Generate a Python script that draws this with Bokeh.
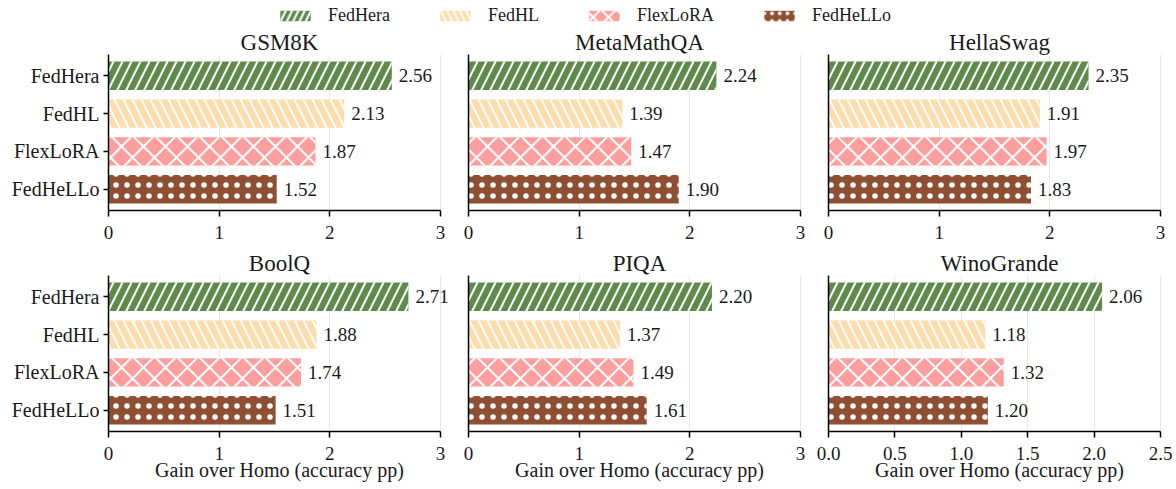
from bokeh.plotting import figure
from bokeh.models import (Range1d, FixedTicker, Legend, LegendItem, ColumnDataSource,
                          PrintfTickFormatter, LabelSet)
from bokeh.layouts import column, row
from bokeh.embed import file_html
from bokeh.resources import INLINE

# ---------------- data ----------------
datasets = ["GSM8K", "MetaMathQA", "HellaSwag", "BoolQ", "PIQA", "WinoGrande"]
methods = ["FedHera", "FedHL", "FlexLoRA", "FedHeLLo"]
fedhera = [2.56, 2.24, 2.35, 2.71, 2.20, 2.06]
fedhl = [2.13, 1.39, 1.91, 1.88, 1.37, 1.18]
flexlora = [1.87, 1.47, 1.97, 1.74, 1.49, 1.32]
fedhello = [1.52, 1.90, 1.83, 1.51, 1.61, 1.20]
x_max = [3, 3, 3, 3, 3, 2.5]
x_ticks = [[0, 1, 2, 3]] * 5 + [[0.0, 0.5, 1.0, 1.5, 2.0, 2.5]]
x_label = "Gain over Homo (accuracy pp)"

series = [fedhera, fedhl, flexlora, fedhello]

# ---------------- style ----------------
FONT = "Liberation Serif"
TXT = "#1a1a1a"
colors = ["#5e8b4b", "#fedcab", "#fe9e9e", "#8f4f33"]
hatches = ["/", "\\", "x", "."]
hscales = [18, 18, 22, 11]
hweights = [2.0, 2.0, 2.0, 0.6]
BAR_H = 0.75
AXIS_PX = 332      # pixel length of the drawn x axis
FRAME_PX = 342     # frame a bit wider so value labels past the axis end are not clipped

ypos = [len(methods) - 1 - i for i in range(len(methods))]


def make_panel(k, first_col, bottom_row, left, right, height, top, bottom):
    x_end = x_max[k] * FRAME_PX / AXIS_PX
    p = figure(width=left + FRAME_PX + right, height=height, output_backend="svg",
               toolbar_location=None,
               x_range=Range1d(0, x_end), y_range=Range1d(-0.5625, 3.5625),
               min_border_left=left, min_border_right=right,
               min_border_top=top, min_border_bottom=bottom)
    p.outline_line_color = None
    p.title.text = datasets[k]
    p.title.align = "center"
    p.title.offset = (FRAME_PX - AXIS_PX) / 2
    p.title.text_font = FONT
    p.title.text_font_size = "23px"
    p.title.text_font_style = "normal"
    p.title.text_color = TXT
    p.title.standoff = 0

    for i, m in enumerate(methods):
        src = ColumnDataSource(dict(y=[ypos[i]], right=[series[i][k]]))
        p.hbar(y="y", right="right", left=0, height=BAR_H, source=src,
               fill_color=colors[i], line_color=None,
               hatch_pattern=hatches[i], hatch_color="white", hatch_alpha=1.0,
               hatch_scale=hscales[i], hatch_weight=hweights[i])

    lab_src = ColumnDataSource(dict(
        y=ypos, right=[s[k] for s in series], lab=["%.2f" % s[k] for s in series]))
    p.add_layout(LabelSet(x="right", y="y", text="lab", source=lab_src, x_offset=7,
                          text_baseline="middle", text_align="left",
                          text_font=FONT, text_font_size="19px", text_color=TXT))

    p.ygrid.visible = False
    p.xgrid.grid_line_color = "#e8e8e8"
    p.xgrid.grid_line_width = 1

    xa = p.xaxis[0]
    xa.bounds = (0, x_max[k])
    xa.ticker = FixedTicker(ticks=x_ticks[k])
    xa.formatter = PrintfTickFormatter(format="%.1f" if x_max[k] != 3 else "%d")
    xa.axis_line_width = 1.5
    xa.axis_line_color = "black"
    xa.major_tick_out = 6
    xa.major_tick_in = 0
    xa.major_tick_line_width = 1.5
    xa.minor_tick_line_color = None
    xa.major_label_text_font = FONT
    xa.major_label_text_font_size = "19px"
    xa.major_label_text_color = TXT
    xa.major_label_standoff = 9
    if bottom_row:
        xa.axis_label = x_label
        xa.axis_label_text_font = FONT
        xa.axis_label_text_font_size = "20px"
        xa.axis_label_text_font_style = "normal"
        xa.axis_label_text_color = TXT
        xa.axis_label_standoff = -4

    ya = p.yaxis[0]
    ya.axis_line_width = 1.5
    ya.axis_line_color = "black"
    ya.minor_tick_line_color = None
    ya.major_tick_in = 0
    if first_col:
        ya.ticker = FixedTicker(ticks=ypos)
        ya.major_label_overrides = {ypos[i]: m for i, m in enumerate(methods)}
        ya.major_tick_out = 5
        ya.major_tick_line_width = 1.5
        ya.major_label_text_font = FONT
        ya.major_label_text_font_size = "20px"
        ya.major_label_text_color = TXT
        ya.major_label_standoff = 4
    else:
        ya.ticker = FixedTicker(ticks=[])
        ya.major_tick_out = 0
        ya.major_label_standoff = 0
    return p


rows = []
for r in range(2):
    figs = []
    for c in range(3):
        k = r * 3 + c
        if c == 0:
            l, rt = 108, 4
        elif c == 1:
            l, rt = 14, 4
        else:
            l, rt = 14, 6
        if r == 0:
            h, t, b = 221, 29, 36
        else:
            h, t, b = 243, 29, 58
        figs.append(make_panel(k, c == 0, r == 1, l, rt, h, t, b))
    rows.append(row(*figs, spacing=0))

# ---------------- legend figure ----------------
lg = figure(width=1176, height=25, output_backend="svg", toolbar_location=None,
            x_range=Range1d(0, 1), y_range=Range1d(0, 1),
            x_axis_type=None, y_axis_type=None,
            min_border_left=0, min_border_right=0, min_border_top=0, min_border_bottom=0)
lg.outline_line_color = None
lg.grid.visible = False
items = []
for i, m in enumerate(methods):
    # a bar kept far outside the visible ranges: only its legend swatch is seen
    src = ColumnDataSource(dict(y=[-5], right=[6]))
    rr = lg.hbar(y="y", right="right", left=5, height=0.5, source=src,
                 fill_color=colors[i], line_color=None,
                 hatch_pattern=hatches[i], hatch_color="white", hatch_alpha=1.0,
                 hatch_scale=hscales[i] * 0.7, hatch_weight=hweights[i])
    items.append(LegendItem(label=m, renderers=[rr]))
leg = Legend(items=items, orientation="horizontal", location=(276, -1),
             glyph_width=38, glyph_height=13, label_standoff=14, spacing=46,
             padding=0, margin=0, border_line_color=None, background_fill_alpha=0)
leg.label_text_font = FONT
leg.label_text_font_size = "18px"
leg.label_text_color = TXT
lg.add_layout(leg, "center")

layout = column(lg, rows[0], rows[1], spacing=0)

open("out.html", "w").write(file_html(layout, INLINE))
